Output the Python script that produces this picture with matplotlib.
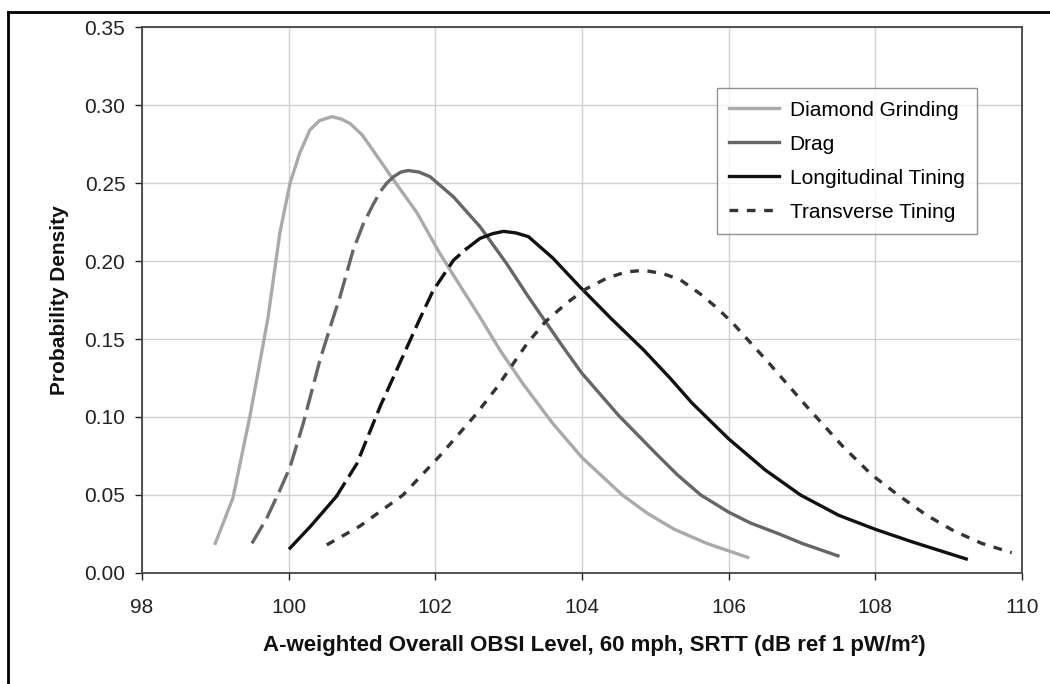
import matplotlib.pyplot as plt
from matplotlib.lines import Line2D
import numpy as np

plt.rcParams['font.family'] = ['Liberation Sans', 'DejaVu Sans']

# values
dg_x = [99.0, 99.24, 99.47, 99.6, 99.72, 99.88, 100.02, 100.15, 100.29, 100.42, 100.59,
        100.72, 100.84, 101.0, 101.15, 101.43, 101.75, 102.06, 102.38, 102.61, 102.88,
        103.2, 103.6, 104.0, 104.55, 104.9, 105.26, 105.7, 106.26]
dg_y = [0.019, 0.048, 0.100, 0.133, 0.164, 0.218, 0.250, 0.269, 0.284, 0.290, 0.2925,
        0.291, 0.288, 0.281, 0.271, 0.252, 0.231, 0.205, 0.181, 0.164, 0.143,
        0.121, 0.096, 0.074, 0.050, 0.038, 0.028, 0.019, 0.010]

drag_x = [99.5, 99.7, 99.88, 100.02, 100.2, 100.43, 100.61, 100.7, 100.88, 101.02, 101.15,
          101.25, 101.34, 101.43, 101.53, 101.63, 101.78, 101.93, 102.25, 102.61, 102.97,
          103.27, 103.52, 103.74, 104.0, 104.5, 105.0, 105.3, 105.62, 106.0, 106.3, 106.69,
          107.0, 107.49]
drag_y = [0.019, 0.035, 0.053, 0.068, 0.096, 0.137, 0.164, 0.177, 0.207, 0.224, 0.236,
          0.2445, 0.250, 0.254, 0.257, 0.258, 0.257, 0.254, 0.241, 0.222, 0.1985,
          0.177, 0.160, 0.145, 0.128, 0.101, 0.077, 0.063, 0.050, 0.039, 0.032, 0.025,
          0.019, 0.011]

lt_x = [100.02, 100.3, 100.65, 100.93, 101.25, 101.52, 101.79, 101.97, 102.25, 102.43,
        102.61, 102.78, 102.93, 103.1, 103.27, 103.6, 103.97, 104.4, 104.84, 105.2, 105.5,
        106.0, 106.5, 106.98, 107.5, 108.0, 108.5, 109.24]
lt_y = [0.016, 0.030, 0.049, 0.070, 0.107, 0.135, 0.163, 0.181, 0.2006, 0.208,
        0.2145, 0.2175, 0.219, 0.218, 0.2156, 0.202, 0.1835, 0.163, 0.143, 0.125, 0.109,
        0.086, 0.066, 0.050, 0.037, 0.028, 0.020, 0.009]

tt_x = [100.52, 100.97, 101.56, 102.06, 102.56, 102.84, 103.25, 103.5, 103.79, 104.05,
        104.34, 104.6, 104.84, 105.1, 105.34, 105.61, 105.84, 106.06, 106.56, 107.06,
        107.56, 107.95, 108.31, 108.7, 109.07, 109.45, 109.86]
tt_y = [0.018, 0.030, 0.050, 0.075, 0.102, 0.119, 0.147, 0.161, 0.173, 0.182,
        0.189, 0.193, 0.194, 0.192, 0.188, 0.179, 0.170, 0.160, 0.134, 0.107,
        0.081, 0.063, 0.050, 0.037, 0.027, 0.019, 0.013]

xticks = [98, 100, 102, 104, 106, 108, 110]
yticks = [0.00, 0.05, 0.10, 0.15, 0.20, 0.25, 0.30, 0.35]


def split(xs, ys, lo, hi):
    # pick the points between lo and hi (inclusive)
    xs = np.array(xs)
    ys = np.array(ys)
    m = (xs >= lo) & (xs <= hi)
    return xs[m], ys[m]


fig = plt.figure(figsize=(10.5, 6.84), dpi=100)
ax = fig.add_axes([0.1352, 0.1623, 0.8381, 0.7982])

lw = 2.4
c_dg = '#aaaaaa'
c_drag = '#666666'
c_lt = '#111111'
c_tt = '#333333'

# diamond grinding - solid
h1, = ax.plot(dg_x, dg_y, color=c_dg, lw=lw, label='Diamond Grinding')

# drag - dashed on the rise, solid after
x, y = split(drag_x, drag_y, 0, 101.34)
ax.plot(x, y, color=c_drag, lw=lw, dashes=(6.5, 2.2))
x, y = split(drag_x, drag_y, 101.34, 200)
h2, = ax.plot(x, y, color=c_drag, lw=lw, label='Drag')

# longitudinal tining - solid, dashed, solid
x, y = split(lt_x, lt_y, 0, 100.65)
ax.plot(x, y, color=c_lt, lw=lw)
x, y = split(lt_x, lt_y, 100.65, 102.43)
ax.plot(x, y, color=c_lt, lw=lw, dashes=(5, 2))
x, y = split(lt_x, lt_y, 102.43, 200)
h3, = ax.plot(x, y, color=c_lt, lw=lw, label='Longitudinal Tining')

# transverse tining - short dashes
h4, = ax.plot(tt_x, tt_y, color=c_tt, lw=lw, dashes=(2.6, 2.6), label='Transverse Tining')

ax.set_xlim(98, 110)
ax.set_ylim(0, 0.35)
ax.set_xticks(xticks)
ax.set_yticks(yticks)
ax.set_yticklabels(['%.2f' % v for v in yticks])
ax.grid(color='#d0d0d0', lw=1)
ax.set_axisbelow(True)
ax.tick_params(labelsize=15, colors='#222222', length=5, width=1)
ax.tick_params(axis='x', pad=13)
ax.tick_params(axis='y', pad=7)
for s in ax.spines.values():
    s.set_color('#444444')
    s.set_linewidth(1.3)

ax.set_xlabel('A-weighted Overall OBSI Level, 60 mph, SRTT (dB ref 1 pW/m²)',
              fontsize=16, fontweight='bold', color='#111111')
ax.xaxis.set_label_coords(0.514, -0.113)
ax.set_ylabel('Probability Density', fontsize=15, fontweight='bold', color='#111111')
ax.yaxis.set_label_coords(-0.083, 0.5)

leg = ax.legend(handles=[h1, h2, h3, h4], loc='upper right', bbox_to_anchor=(0.949, 0.888),
                fontsize=15, frameon=True, fancybox=False, handlelength=2.4,
                borderpad=0.6, labelspacing=0.72, handletextpad=0.5, borderaxespad=0)
leg.get_frame().set_edgecolor('#777777')
leg.get_frame().set_linewidth(1)

# outer frame lines (left and top)
fig.add_artist(Line2D([8 / 1050, 8 / 1050], [0, 1 - 12 / 684], color='black', lw=2,
                      transform=fig.transFigure))
fig.add_artist(Line2D([8 / 1050, 1], [1 - 12 / 684, 1 - 12 / 684], color='black', lw=2,
                      transform=fig.transFigure))

plt.savefig('out.png', dpi=100)
